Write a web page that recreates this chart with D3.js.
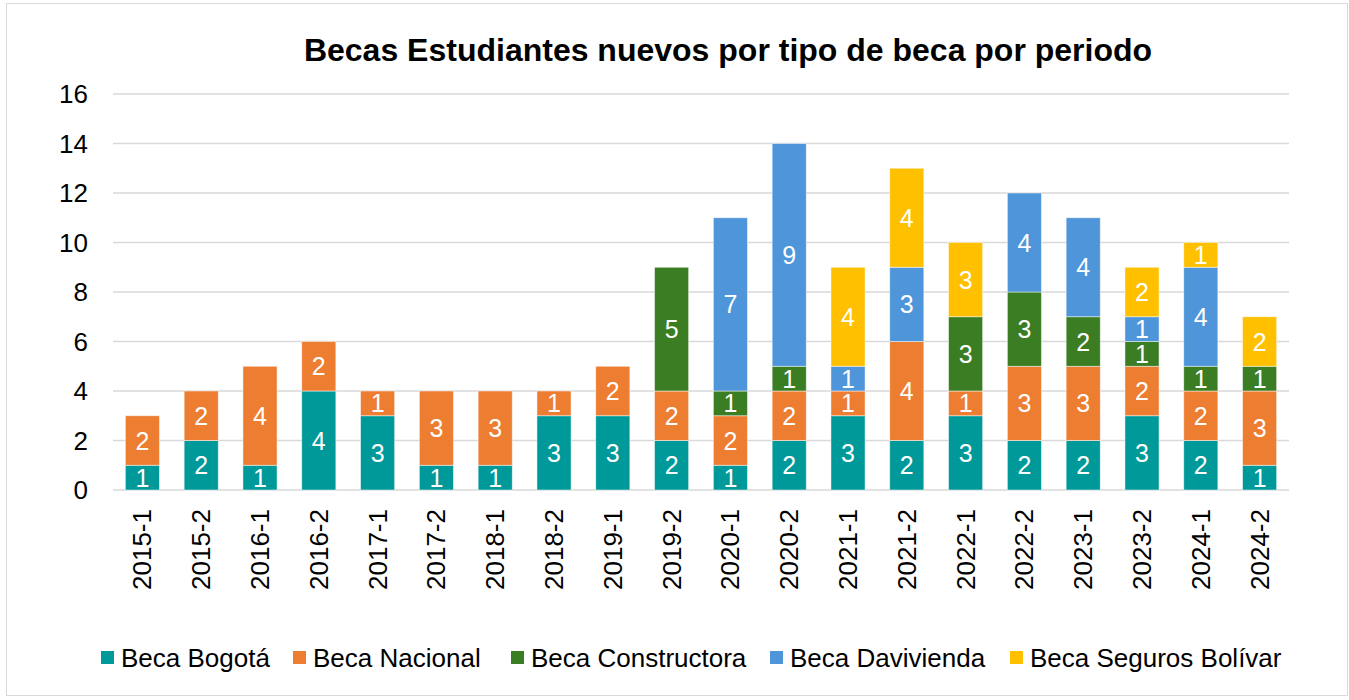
<!DOCTYPE html>
<html><head><meta charset="utf-8">
<script src="https://cdn.jsdelivr.net/npm/d3@7"></script>
<style>body{margin:0;background:#fff;font-family:"Liberation Sans",Arial,sans-serif}</style>
</head><body><svg id="c" width="1349" height="700"></svg>
<script>
const periods=["2015-1","2015-2","2016-1","2016-2","2017-1","2017-2","2018-1","2018-2","2019-1","2019-2","2020-1","2020-2","2021-1","2021-2","2022-1","2022-2","2023-1","2023-2","2024-1","2024-2"];
const seriesNames=["Beca Bogotá","Beca Nacional","Beca Constructora","Beca Davivienda","Beca Seguros Bolívar"];
const becaBogota=[1,2,1,4,3,1,1,3,3,2,1,2,3,2,3,2,2,3,2,1];
const becaNacional=[2,2,4,2,1,3,3,1,2,2,2,2,1,4,1,3,3,2,2,3];
const becaConstructora=[0,0,0,0,0,0,0,0,0,5,1,1,0,0,3,3,2,1,1,1];
const becaDavivienda=[0,0,0,0,0,0,0,0,0,0,7,9,1,3,0,4,4,1,4,0];
const becaSeguros=[0,0,0,0,0,0,0,0,0,0,0,0,4,4,3,0,0,2,1,2];
const yTicks=[0,2,4,6,8,10,12,14,16];
const colors=["#009999","#ED7D31","#3A7D22","#4E95D9","#FFC000"];

const svg=d3.select("#c");
svg.append("rect").attr("x",6.5).attr("y",3.5).attr("width",1341).attr("height",692).attr("fill","#fff").attr("stroke","#d9d9d9");
const data=periods.map((p,i)=>({p,"Beca Bogotá":becaBogota[i],"Beca Nacional":becaNacional[i],"Beca Constructora":becaConstructora[i],"Beca Davivienda":becaDavivienda[i],"Beca Seguros Bolívar":becaSeguros[i]}));
const x=d3.scaleBand().domain(periods).range([113,1289]).paddingInner(0.42).paddingOuter(0.21);
const y=d3.scaleLinear().domain([0,16]).range([490,94]);
const g=svg.append("g");
g.selectAll("line.grid").data(yTicks).join("line").attr("x1",113).attr("x2",1289).attr("y1",d=>y(d)).attr("y2",d=>y(d)).attr("stroke","#d9d9d9").attr("stroke-width",1.3);
g.selectAll("text.yt").data(yTicks).join("text").attr("x",88).attr("y",d=>y(d)+9).attr("text-anchor","end").attr("font-size",26).attr("fill","#000").text(d=>d);
const stack=d3.stack().keys(seriesNames)(data);
stack.forEach((s,si)=>{
  const gg=g.append("g");
  s.forEach((d,i)=>{
    const v=d[1]-d[0]; if(!v) return;
    gg.append("rect").attr("x",x(periods[i])).attr("width",x.bandwidth()).attr("y",y(d[1])).attr("height",y(d[0])-y(d[1])).attr("fill",colors[si]).attr("stroke","#fff").attr("stroke-opacity",0.6).attr("stroke-width",0.8);
    gg.append("text").attr("x",x(periods[i])+x.bandwidth()/2).attr("y",(y(d[0])+y(d[1]))/2+9).attr("text-anchor","middle").attr("font-size",25).attr("fill","#fff").text(v);
  });
});
g.selectAll("text.xt").data(periods).join("text").attr("transform",d=>`translate(${x(d)+x.bandwidth()/2+9},509) rotate(-90)`).attr("text-anchor","end").attr("font-size",26).attr("fill","#000").text(d=>d);
svg.append("text").attr("x",728).attr("y",61).attr("text-anchor","middle").attr("font-size",32).attr("font-weight","bold").text("Becas Estudiantes nuevos por tipo de beca por periodo");
const lx=[101,293,511,770,1010];
seriesNames.forEach((n,i)=>{
  svg.append("rect").attr("x",lx[i]).attr("y",651).attr("width",13).attr("height",13).attr("fill",colors[i]);
  svg.append("text").attr("x",lx[i]+20).attr("y",667).attr("font-size",26).text(n);
});
</script></body></html>
